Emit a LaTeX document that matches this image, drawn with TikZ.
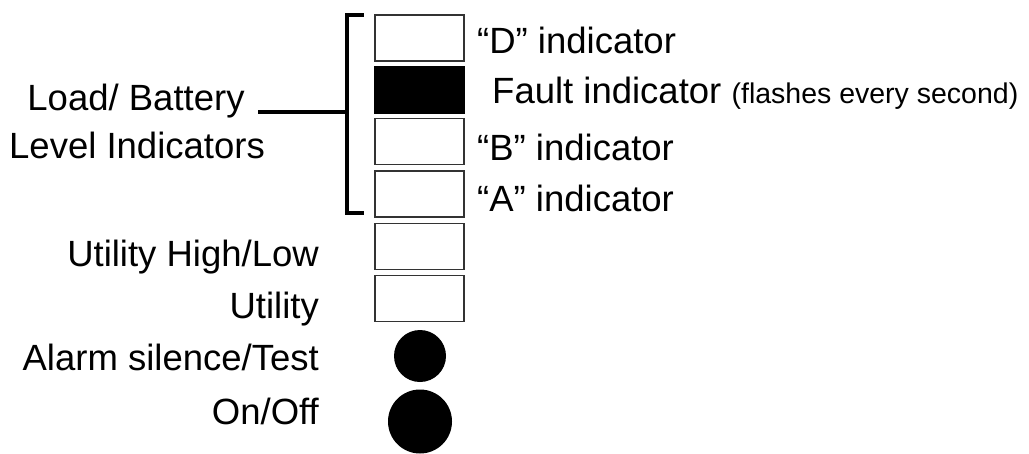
\documentclass[tikz,border=0pt]{standalone}
\usepackage{fontspec}
\setmainfont{Liberation Sans}
\begin{document}
\begin{tikzpicture}[x=1pt,y=-1pt,
  lamp/.style={draw=black!80,line width=1.3pt,minimum width=89pt,minimum height=46pt,inner sep=0pt,outer sep=0pt},
  lampon/.style={lamp,fill=black,draw=black},
  btn/.style={circle,fill=black,inner sep=0pt,outer sep=0pt},
  lbl/.style={inner sep=0pt,font=\fontsize{36.5}{40}\selectfont},
  brk/.style={line width=4.5pt,line join=miter,line cap=rect}]
\useasboundingbox (0,0) rectangle (1029,453);
% indicator lamps
\node[lamp]   (d)  at (419.5,38)  {};
\node[lampon] (f)  at (419.5,90)  {};
\node[lamp]   (b)  at (419.5,141.5) {};
\node[lamp]   (a)  at (419.5,194) {};
\node[lamp]   (uh) at (419.5,246.5) {};
\node[lamp]   (u)  at (419.5,298.5) {};
\node[btn,minimum size=52pt] (as) at (420,356) {};
\node[btn,minimum size=64pt] (oo) at (420,421.5) {};
% right labels
\node[lbl,anchor=base west] (dl) at (477,53)  {“D” indicator};
\node[lbl,anchor=base west] (fl) at (492,103) {Fault indicator \fontsize{28.5}{30}\selectfont(flashes every second)};
\node[lbl,anchor=base west] (bl) at (477,160) {“B” indicator};
\node[lbl,anchor=base west] (al) at (477,211) {“A” indicator};
% left labels
\node[lbl,anchor=base east] (uhl) at (319,266) {Utility High/Low};
\node[lbl,anchor=base east] (ul)  at (319,318) {Utility};
\node[lbl,anchor=base east] (asl) at (319,370) {Alarm silence/Test};
\node[lbl,anchor=base east] (ool) at (319,424) {On/Off};
\node[lbl,anchor=base] (lb1) at (136,110) {Load/ Battery};
\node[lbl,anchor=base] (lb2) at (137,158) {Level Indicators};
% bracket
\coordinate (bt) at (362,15);
\coordinate (bb) at (362,213);
\coordinate (bj) at (347,112);
\coordinate (lj) at (258,112);
\draw[brk] (bt) -| (bb -| bj) -- (bb);
\draw[line width=3.5pt] (lj) -- (bj);
\end{tikzpicture}
\end{document}
